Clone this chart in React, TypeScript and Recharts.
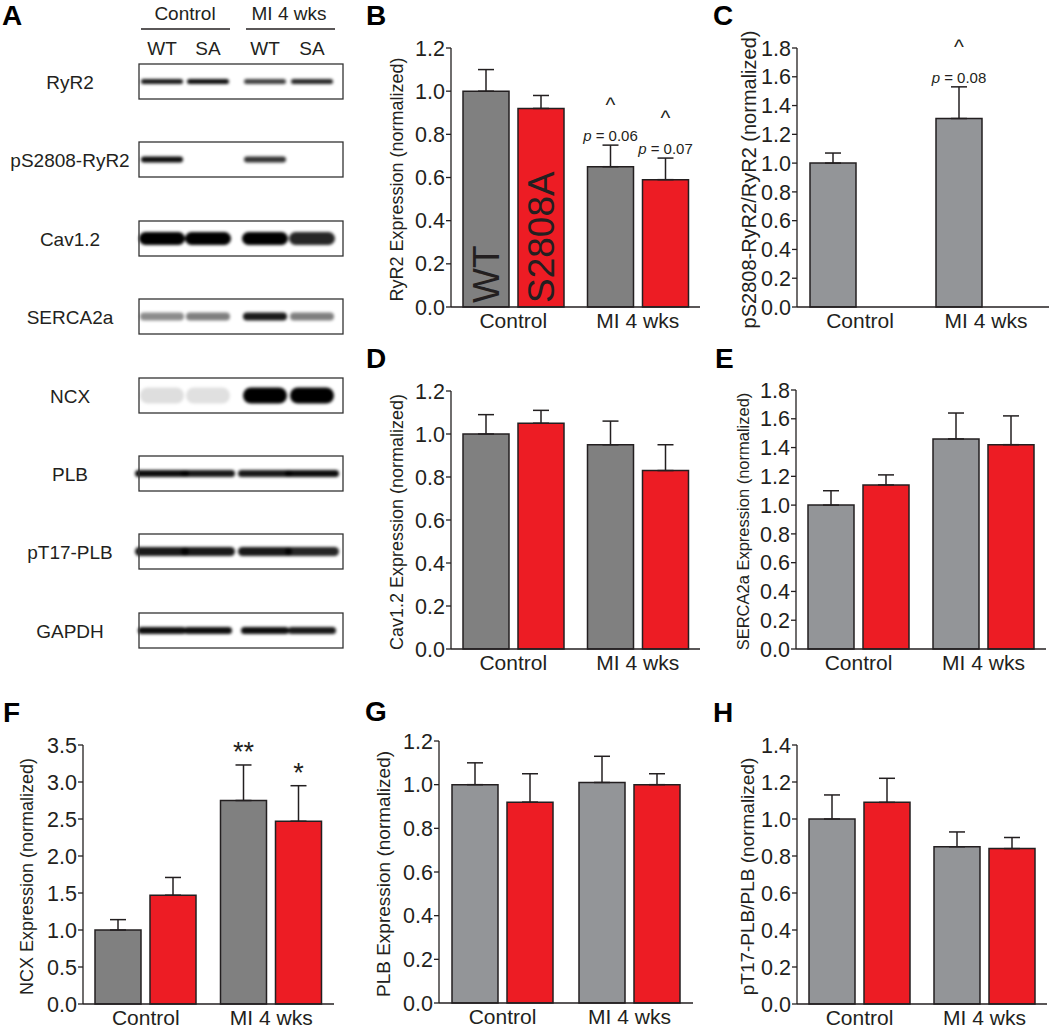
import { Bar, BarChart, ErrorBar, LabelList, XAxis, YAxis } from "recharts";

const FONT = '"Liberation Sans", Arial, Helvetica, sans-serif';
const INK = "#231f20";
const RED = "#ed1c24";
const DARK_GREY = "#808080";
const LIGHT_GREY = "#939598";

const groups = ["Control", "MI 4 wks"];

// B: RyR2
const ryr2Wt = [1.0, 0.65];
const ryr2WtSem = [0.1, 0.1];
const ryr2Sa = [0.92, 0.59];
const ryr2SaSem = [0.06, 0.1];
const ryr2WtNote = ["", "p = 0.06"];
const ryr2SaNote = ["", "p = 0.07"];
const ryr2WtMark = ["", "^"];
const ryr2SaMark = ["", "^"];
const ryr2WtTag = ["WT", ""];
const ryr2SaTag = ["S2808A", ""];

// C: pS2808-RyR2 / RyR2
const pRyr2Wt = [1.0, 1.31];
const pRyr2WtSem = [0.07, 0.22];
const pRyr2WtNote = ["", "p = 0.08"];
const pRyr2WtMark = ["", "^"];

// D: Cav1.2
const cavWt = [1.0, 0.95];
const cavWtSem = [0.09, 0.11];
const cavSa = [1.05, 0.83];
const cavSaSem = [0.06, 0.12];

// E: SERCA2a
const sercaWt = [1.0, 1.46];
const sercaWtSem = [0.1, 0.18];
const sercaSa = [1.14, 1.42];
const sercaSaSem = [0.07, 0.2];

// F: NCX
const ncxWt = [1.0, 2.75];
const ncxWtSem = [0.14, 0.48];
const ncxSa = [1.47, 2.47];
const ncxSaSem = [0.24, 0.48];
const ncxWtMark = ["", "**"];
const ncxSaMark = ["", "*"];

// G: PLB
const plbWt = [1.0, 1.01];
const plbWtSem = [0.1, 0.12];
const plbSa = [0.92, 1.0];
const plbSaSem = [0.13, 0.05];

// H: pT17-PLB / PLB
const pPlbWt = [1.0, 0.85];
const pPlbWtSem = [0.13, 0.08];
const pPlbSa = [1.09, 0.84];
const pPlbSaSem = [0.13, 0.06];

const ticks12 = [0, 0.2, 0.4, 0.6, 0.8, 1.0, 1.2];
const ticks14 = [0, 0.2, 0.4, 0.6, 0.8, 1.0, 1.2, 1.4];
const ticks18 = [0, 0.2, 0.4, 0.6, 0.8, 1.0, 1.2, 1.4, 1.6, 1.8];
const ticks35 = [0, 0.5, 1.0, 1.5, 2.0, 2.5, 3.0, 3.5];

// A: western blots
const blotNames = ["RyR2", "pS2808-RyR2", "Cav1.2", "SERCA2a", "NCX", "PLB", "pT17-PLB", "GAPDH"];
const laneNames = ["WT", "SA", "WT", "SA"];
const bandDensity = [
  [0.9, 0.95, 0.75, 0.85],
  [0.95, 0, 0.8, 0],
  [1, 1, 1, 0.85],
  [0.45, 0.5, 0.9, 0.5],
  [0.13, 0.12, 1, 1],
  [0.95, 0.9, 0.9, 0.95],
  [0.9, 0.9, 0.9, 0.85],
  [0.95, 0.95, 0.95, 0.9],
];

type Series = { mean: number[]; sem: number[]; note?: string[]; mark?: string[]; tag?: string[] };
type Row = Record<string, any>;

function makeRows(wt: Series, sa?: Series): Row[] {
  return groups.map((group, i) => ({
    group,
    wt: wt.mean[i],
    wtErr: [0, wt.sem[i]],
    wtNote: wt.note?.[i] ?? "",
    wtMark: wt.mark?.[i] ?? "",
    wtTag: wt.tag?.[i] ?? "",
    sa: sa ? sa.mean[i] : null,
    saErr: sa ? [0, sa.sem[i]] : [0, 0],
    saNote: sa?.note?.[i] ?? "",
    saMark: sa?.mark?.[i] ?? "",
    saTag: sa?.tag?.[i] ?? "",
  }));
}

function annotate(rows: Row[], key: "wt" | "sa") {
  return (p: any) => {
    const r = rows[p.index];
    if (!r) return null;
    const note: string = r[key + "Note"];
    const mark: string = r[key + "Mark"];
    const tag: string = r[key + "Tag"];
    if (!note && !mark && !tag) return null;
    const vb = p.viewBox ?? p;
    const { x, y, width, height } = vb;
    const cx = x + width / 2;
    const top = y - (r[key + "Err"][1] * height) / r[key];
    const out = [];
    if (tag) {
      const by = y + height - 4;
      out.push(
        <text key="tag" x={cx} y={by} transform={`rotate(-90 ${cx} ${by})`} fontSize={37} fill={INK} dominantBaseline="central">
          {tag}
        </text>
      );
    }
    if (note) {
      out.push(
        <text key="note" x={cx} y={top - 4} fontSize={15} fill={INK} textAnchor="middle">
          <tspan fontStyle="italic">{note.slice(0, 1)}</tspan>
          {note.slice(1)}
        </text>
      );
    }
    if (mark === "^") {
      out.push(
        <text key="mark" x={cx} y={top - 33} fontSize={21} fill={INK} textAnchor="middle">
          ^
        </text>
      );
    } else if (mark) {
      out.push(
        <text key="mark" x={cx} y={top - 4} fontSize={27} fill={INK} textAnchor="middle">
          {mark}
        </text>
      );
    }
    return <g>{out}</g>;
  };
}

const yLabel = (text: string, size: number, gap: number) => (p: any) => {
  const vb = p.viewBox;
  const cx = vb.x + vb.width - gap;
  const cy = vb.y + vb.height / 2 + 2;
  return (
    <text x={cx} y={cy} transform={`rotate(-90 ${cx} ${cy})`} textAnchor="middle" dominantBaseline="central" fontSize={size} fill={INK}>
      {text}
    </text>
  );
};

type PanelCfg = {
  id: string;
  rows: Row[];
  hasSa: boolean;
  left: number;
  top: number;
  right: number;
  bottom: number;
  ticks: number[];
  label: string;
  labelSize: number;
  labelGap: number;
  grey: string;
};

const panels: PanelCfg[] = [
  {
    id: "B",
    rows: makeRows(
      { mean: ryr2Wt, sem: ryr2WtSem, note: ryr2WtNote, mark: ryr2WtMark, tag: ryr2WtTag },
      { mean: ryr2Sa, sem: ryr2SaSem, note: ryr2SaNote, mark: ryr2SaMark, tag: ryr2SaTag }
    ),
    hasSa: true,
    left: 451, top: 48, right: 700, bottom: 307,
    ticks: ticks12, label: "RyR2 Expression (normalized)", labelSize: 18, labelGap: 54, grey: DARK_GREY,
  },
  {
    id: "C",
    rows: makeRows({ mean: pRyr2Wt, sem: pRyr2WtSem, note: pRyr2WtNote, mark: pRyr2WtMark }),
    hasSa: false,
    left: 797, top: 48, right: 1049, bottom: 307,
    ticks: ticks18, label: "pS2808-RyR2/RyR2 (normalized)", labelSize: 20, labelGap: 48, grey: LIGHT_GREY,
  },
  {
    id: "D",
    rows: makeRows({ mean: cavWt, sem: cavWtSem }, { mean: cavSa, sem: cavSaSem }),
    hasSa: true,
    left: 451, top: 391, right: 700, bottom: 649,
    ticks: ticks12, label: "Cav1.2 Expression (normalized)", labelSize: 18, labelGap: 54, grey: DARK_GREY,
  },
  {
    id: "E",
    rows: makeRows({ mean: sercaWt, sem: sercaWtSem }, { mean: sercaSa, sem: sercaSaSem }),
    hasSa: true,
    left: 796, top: 390, right: 1046, bottom: 649,
    ticks: ticks18, label: "SERCA2a Expression (normalized)", labelSize: 16.5, labelGap: 53, grey: LIGHT_GREY,
  },
  {
    id: "F",
    rows: makeRows({ mean: ncxWt, sem: ncxWtSem, mark: ncxWtMark }, { mean: ncxSa, sem: ncxSaSem, mark: ncxSaMark }),
    hasSa: true,
    left: 83, top: 745, right: 334, bottom: 1004,
    ticks: ticks35, label: "NCX Expression (normalized)", labelSize: 18, labelGap: 56, grey: DARK_GREY,
  },
  {
    id: "G",
    rows: makeRows({ mean: plbWt, sem: plbWtSem }, { mean: plbSa, sem: plbSaSem }),
    hasSa: true,
    left: 439, top: 741, right: 693, bottom: 1003,
    ticks: ticks12, label: "PLB Expression (normalized)", labelSize: 19, labelGap: 56, grey: LIGHT_GREY,
  },
  {
    id: "H",
    rows: makeRows({ mean: pPlbWt, sem: pPlbWtSem }, { mean: pPlbSa, sem: pPlbSaSem }),
    hasSa: true,
    left: 797, top: 745, right: 1047, bottom: 1004,
    ticks: ticks14, label: "pT17-PLB/PLB (normalized)", labelSize: 19, labelGap: 50, grey: LIGHT_GREY,
  },
];

function Panel({ cfg }: { cfg: PanelCfg }) {
  const yW = 80;
  const mTop = 40;
  const edgeH = 4;
  const catH = 30;
  const width = cfg.right - cfg.left + yW + 4;
  const height = mTop + cfg.bottom - cfg.top + edgeH + catH;
  const max = cfg.ticks[cfg.ticks.length - 1];
  const line = { stroke: INK, strokeWidth: 1.3 };
  return (
    <div style={{ position: "absolute", left: cfg.left - yW, top: cfg.top - mTop }}>
      <BarChart width={width} height={height} data={cfg.rows} margin={{ top: mTop, right: 4, bottom: 0, left: 0 }} barSize={46} barGap={9}>
        <XAxis xAxisId="b" dataKey="group" type="category" axisLine={false} tickLine={false} tickSize={0} tickMargin={2} height={catH} interval={0} tick={{ fontSize: 21, fill: INK }} />
        <XAxis xAxisId="a" type="number" domain={[0, 2]} ticks={[0, 1, 2]} allowDataOverflow tick={false} tickSize={4} height={edgeH} axisLine={line} tickLine={line} />
        <YAxis
          type="number"
          domain={[0, max]}
          ticks={cfg.ticks}
          interval={0}
          width={yW}
          tickSize={5}
          tickMargin={1}
          tickFormatter={(v: number) => v.toFixed(1)}
          tick={{ fontSize: 21.5, fill: INK }}
          axisLine={line}
          tickLine={line}
          label={{ content: yLabel(cfg.label, cfg.labelSize, cfg.labelGap) }}
        />
        <Bar xAxisId="b" dataKey="wt" fill={cfg.grey} stroke={INK} strokeWidth={1.5} isAnimationActive={false}>
          <ErrorBar dataKey="wtErr" width={8} stroke={INK} strokeWidth={1.5} isAnimationActive={false} />
          <LabelList content={annotate(cfg.rows, "wt")} />
        </Bar>
        <Bar xAxisId="b" dataKey="sa" fill={RED} stroke={INK} strokeWidth={1.5} isAnimationActive={false}>
          {cfg.hasSa && <ErrorBar dataKey="saErr" width={8} stroke={INK} strokeWidth={1.5} isAnimationActive={false} />}
          {cfg.hasSa && <LabelList content={annotate(cfg.rows, "sa")} />}
        </Bar>
      </BarChart>
    </div>
  );
}

function BlotPanel() {
  const lanes = [162, 208, 265, 312];
  const bandStyle = [
    { h: 5, w: 42 },
    { h: 6, w: 42 },
    { h: 13, w: 46 },
    { h: 8, w: 44 },
    { h: 16, w: 44 },
    { h: 7, w: 54 },
    { h: 9, w: 54 },
    { h: 7, w: 48 },
  ];
  const letters: [string, number, number][] = [
    ["A", 2, 25], ["B", 366, 25], ["C", 713, 25], ["D", 366, 368],
    ["E", 715, 368], ["F", 3, 722], ["G", 365, 721], ["H", 713, 722],
  ];
  return (
    <svg width={1050} height={1028} style={{ position: "absolute", left: 0, top: 0 }}>
      <defs>
        <filter id="smear" x="-30%" y="-200%" width="160%" height="500%">
          <feGaussianBlur stdDeviation="1.8" />
        </filter>
      </defs>
      {letters.map(([t, x, y]) => (
        <text key={t} x={x} y={y} fontSize={28} fontWeight="bold" fill="#000">
          {t}
        </text>
      ))}
      <text x={185} y={20} fontSize={19} textAnchor="middle" fill={INK}>Control</text>
      <text x={289} y={20} fontSize={19} textAnchor="middle" fill={INK}>MI 4 wks</text>
      <line x1={141} x2={230} y1={29} y2={29} stroke={INK} strokeWidth={1.6} />
      <line x1={246} x2={335} y1={29} y2={29} stroke={INK} strokeWidth={1.6} />
      {laneNames.map((n, i) => (
        <text key={i} x={lanes[i]} y={55} fontSize={19} textAnchor="middle" fill={INK}>
          {n}
        </text>
      ))}
      {blotNames.map((name, i) => {
        const top = Math.round(64 + i * 78.4);
        const cy = top + 17.5;
        const s = bandStyle[i];
        return (
          <g key={name}>
            <text x={70} y={cy + 7} fontSize={19} textAnchor="middle" fill={INK}>
              {name}
            </text>
            <g filter="url(#smear)">
              {bandDensity[i].map((d, j) =>
                d > 0 ? (
                  <rect key={j} x={lanes[j] - s.w / 2} y={cy - s.h / 2} width={s.w} height={s.h} rx={s.h / 2} fill="#000" opacity={d} />
                ) : null
              )}
            </g>
            <rect x={139} y={top} width={204} height={35} fill="none" stroke="#333" strokeWidth={1.3} />
          </g>
        );
      })}
    </svg>
  );
}

export default function App() {
  return (
    <div style={{ position: "relative", width: 1050, height: 1028, overflow: "hidden", background: "#fff", fontFamily: FONT, color: INK }}>
      <style>{"body{margin:0}"}</style>
      <BlotPanel />
      {panels.map((p) => (
        <Panel key={p.id} cfg={p} />
      ))}
    </div>
  );
}
